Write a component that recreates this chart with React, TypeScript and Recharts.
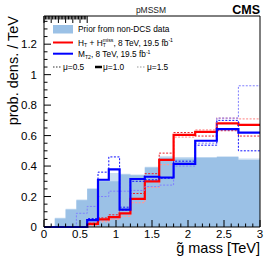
import { ComposedChart, Area, Line, XAxis, YAxis } from "recharts";

// gluino mass bins [TeV] (irregular widths)
const binEdges = [0, 0.15, 0.3, 0.45, 0.6, 0.75, 0.9, 1.05, 1.2, 1.4, 1.6, 1.8, 2.1, 2.4, 2.7, 3.0];

// one value per bin
const priorBand = [0, 0.06, 0.12, 0.18, 0.255, 0.31, 0.355, 0.35, 0.345, 0.395, 0.465, 0.46, 0.46, 0.465, 0.45];
const prior = [0, 0.055, 0.115, 0.175, 0.25, 0.3, 0.3, 0.345, 0.34, 0.39, 0.455, 0.45, 0.455, 0.46, 0.44];

const htMu10 = [0, 0, 0, 0, 0.02, 0.05, 0.065, 0.09, 0.185, 0.3, 0.44, 0.605, 0.625, 0.68, 0.67];
const htMu05 = [0, 0, 0, 0, 0.025, 0.06, 0.08, 0.11, 0.22, 0.35, 0.485, 0.62, 0.597, 0.632, 0.597];
const htMu15 = [0, 0, 0, 0, 0.01, 0.035, 0.05, 0.07, 0.16, 0.26, 0.41, 0.59, 0.637, 0.714, 0.71];

const mt2Mu10 = [0, 0, 0, 0, 0.045, 0.31, 0.378, 0.114, 0.315, 0.33, 0.325, 0.414, 0.566, 0.643, 0.619];
const mt2Mu05 = [0, 0, 0, 0, 0.055, 0.36, 0.46, 0.13, 0.3, 0.31, 0.32, 0.432, 0.537, 0.7, 0.5];
const mt2Mu15 = [0, 0, 0, 0.09, 0.135, 0.2, 0.235, 0.235, 0.24, 0.265, 0.275, 0.4, 0.55, 0.715, 0.927];

const xMajor = [0, 0.5, 1, 1.5, 2, 2.5, 3];
const yMajor = [0, 0.2, 0.4, 0.6, 0.8, 1, 1.2];
const xTicks = Array.from({ length: 31 }, (_, i) => +(i * 0.1).toFixed(1));
const yTicks = Array.from({ length: 28 }, (_, i) => +(i * 0.05).toFixed(2));

const rows = binEdges.map((x, i) => {
  const k = Math.min(i, prior.length - 1);
  return {
    x,
    priorBand: priorBand[k],
    prior: prior[k],
    htMu10: htMu10[k],
    htMu05: htMu05[k],
    htMu15: htMu15[k],
    mt2Mu10: mt2Mu10[k],
    mt2Mu05: mt2Mu05[k],
    mt2Mu15: mt2Mu15[k],
  };
});

const FONT = "'Liberation Sans', Arial, sans-serif";
const PRIOR = "#9bc1e6";
const PRIOR_LIGHT = "#cadef2";

const major = (list: number[], v: number) => list.find((m) => Math.abs(m - v) < 1e-6);

const BottomTick = ({ x, y, payload }: any) => {
  const m = major(xMajor, payload.value);
  return (
    <g>
      <line x1={x} x2={x} y1={y} y2={y - (m !== undefined ? 7 : 3.5)} stroke="#000" />
      {m !== undefined && (
        <text x={x} y={y + 10.5} textAnchor="middle" fontSize={11.5} fontFamily={FONT} fill="#000">
          {String(m)}
        </text>
      )}
    </g>
  );
};

const TopTick = ({ x, y, payload }: any) => {
  const m = major(xMajor, payload.value);
  return <line x1={x} x2={x} y1={y} y2={y + (m !== undefined ? 7 : 3.5)} stroke="#000" />;
};

const LeftTick = ({ x, y, payload }: any) => {
  const m = major(yMajor, payload.value);
  return (
    <g>
      <line x1={x} x2={x + (m !== undefined ? 7 : 3.5)} y1={y} y2={y} stroke="#000" />
      {m !== undefined && (
        <text x={x - 7} y={y + 4} textAnchor="end" fontSize={11.5} fontFamily={FONT} fill="#000">
          {String(m)}
        </text>
      )}
    </g>
  );
};

const RightTick = ({ x, y, payload }: any) => {
  const m = major(yMajor, payload.value);
  return <line x1={x} x2={x - (m !== undefined ? 7 : 3.5)} y1={y} y2={y} stroke="#000" />;
};

function Overlay() {
  const fs = 8.3;
  return (
    <svg
      width={274}
      height={263}
      style={{ position: "absolute", left: 0, top: 0, pointerEvents: "none" }}
      fontFamily={FONT}
    >
      <text x={151} y={13} textAnchor="middle" fontSize={8.5} fill="#222">pMSSM</text>
      <text x={260} y={13.5} textAnchor="end" fontSize={12.5} fontWeight="bold" fill="#000">CMS</text>

      <text transform="translate(18,16) rotate(-90)" textAnchor="end" fontSize={14.5} fill="#000">
        prob. dens. / TeV
      </text>
      <text x={260} y={253} textAnchor="end" fontSize={14.5} fill="#000">g̃ mass [TeV]</text>

      <rect x={53} y={25} width={20} height={8.5} fill={PRIOR} />
      <text x={78} y={32} fontSize={fs} fill="#000">Prior from non-DCS data</text>

      <line x1={53} x2={73} y1={42.5} y2={42.5} stroke="#ff0000" strokeWidth={2} />
      <text x={78} y={45.5} fontSize={fs} fill="#000">
        H<tspan dy={1.8} fontSize={5.2}>T</tspan>
        <tspan dy={-1.8}> + H</tspan>
        <tspan dy={1.8} fontSize={5.2}>T</tspan>
        <tspan dx={-3} dy={-5} fontSize={5.2}>miss</tspan>
        <tspan dy={3.2}>, 8 TeV, 19.5 fb</tspan>
        <tspan dy={-3.2} fontSize={5.2}>-1</tspan>
      </text>

      <line x1={53} x2={73} y1={53.7} y2={53.7} stroke="#0000ff" strokeWidth={2} />
      <text x={78} y={57} fontSize={fs} fill="#000">
        M<tspan dy={1.8} fontSize={5.2}>T2</tspan>
        <tspan dy={-1.8}>, 8 TeV, 19.5 fb</tspan>
        <tspan dy={-3.2} fontSize={5.2}>-1</tspan>
      </text>

      <line x1={53} x2={62} y1={67} y2={67} stroke="#333" strokeWidth={1} strokeDasharray="1.5 1.5" />
      <text x={63} y={70} fontSize={fs} fill="#000">μ=0.5</text>
      <line x1={95} x2={102} y1={67} y2={67} stroke="#000" strokeWidth={2.5} />
      <text x={103} y={70} fontSize={fs} fill="#000">μ=1.0</text>
      <line x1={137} x2={145} y1={67} y2={67} stroke="#999" strokeWidth={1} strokeDasharray="1.5 1.5" />
      <text x={147} y={70} fontSize={fs} fill="#000">μ=1.5</text>
    </svg>
  );
}

export default function App() {
  return (
    <div style={{ position: "absolute", left: 0, top: 0, width: 274, height: 263, background: "#fff" }}>
      <ComposedChart width={274} height={263} data={rows} margin={{ top: 0, right: 0, bottom: 0, left: 0 }}>
        <XAxis
          dataKey="x"
          type="number"
          domain={[0, 3]}
          ticks={xTicks}
          interval={0}
          tickSize={0}
          tickMargin={0}
          height={36}
          tick={BottomTick}
          axisLine={{ stroke: "#000" }}
        />
        <XAxis
          xAxisId="top"
          orientation="top"
          type="number"
          domain={[0, 3]}
          ticks={xTicks}
          interval={0}
          tickSize={0}
          tickMargin={0}
          height={16}
          tick={TopTick}
          axisLine={{ stroke: "#000" }}
        />
        <YAxis
          type="number"
          domain={[0, 1.385]}
          ticks={yTicks}
          interval={0}
          tickSize={0}
          tickMargin={0}
          width={44}
          tick={LeftTick}
          axisLine={{ stroke: "#000" }}
        />
        <YAxis
          yAxisId="right"
          orientation="right"
          type="number"
          domain={[0, 1.385]}
          ticks={yTicks}
          interval={0}
          tickSize={0}
          tickMargin={0}
          width={14}
          tick={RightTick}
          axisLine={{ stroke: "#000" }}
        />
        <Area type="stepAfter" dataKey="priorBand" fill={PRIOR_LIGHT} fillOpacity={1} stroke="none" isAnimationActive={false} />
        <Area type="stepAfter" dataKey="prior" fill={PRIOR} fillOpacity={1} stroke="none" isAnimationActive={false} />
        <Line type="stepAfter" dataKey="htMu15" stroke="#ff9a9a" strokeWidth={1.3} strokeDasharray="2 1.5" dot={false} isAnimationActive={false} />
        <Line type="stepAfter" dataKey="htMu05" stroke="#e8202a" strokeWidth={1} strokeDasharray="2 1.5" dot={false} isAnimationActive={false} />
        <Line type="stepAfter" dataKey="htMu10" stroke="#ff0000" strokeWidth={2.2} dot={false} isAnimationActive={false} />
        <Line type="stepAfter" dataKey="mt2Mu15" stroke="#7f7fff" strokeWidth={1} strokeDasharray="2 1.5" dot={false} isAnimationActive={false} />
        <Line type="stepAfter" dataKey="mt2Mu05" stroke="#1010ff" strokeWidth={1} strokeDasharray="2 1.5" dot={false} isAnimationActive={false} />
        <Line type="stepAfter" dataKey="mt2Mu10" stroke="#0000ff" strokeWidth={2.2} dot={false} isAnimationActive={false} />
      </ComposedChart>
      <Overlay />
    </div>
  );
}
